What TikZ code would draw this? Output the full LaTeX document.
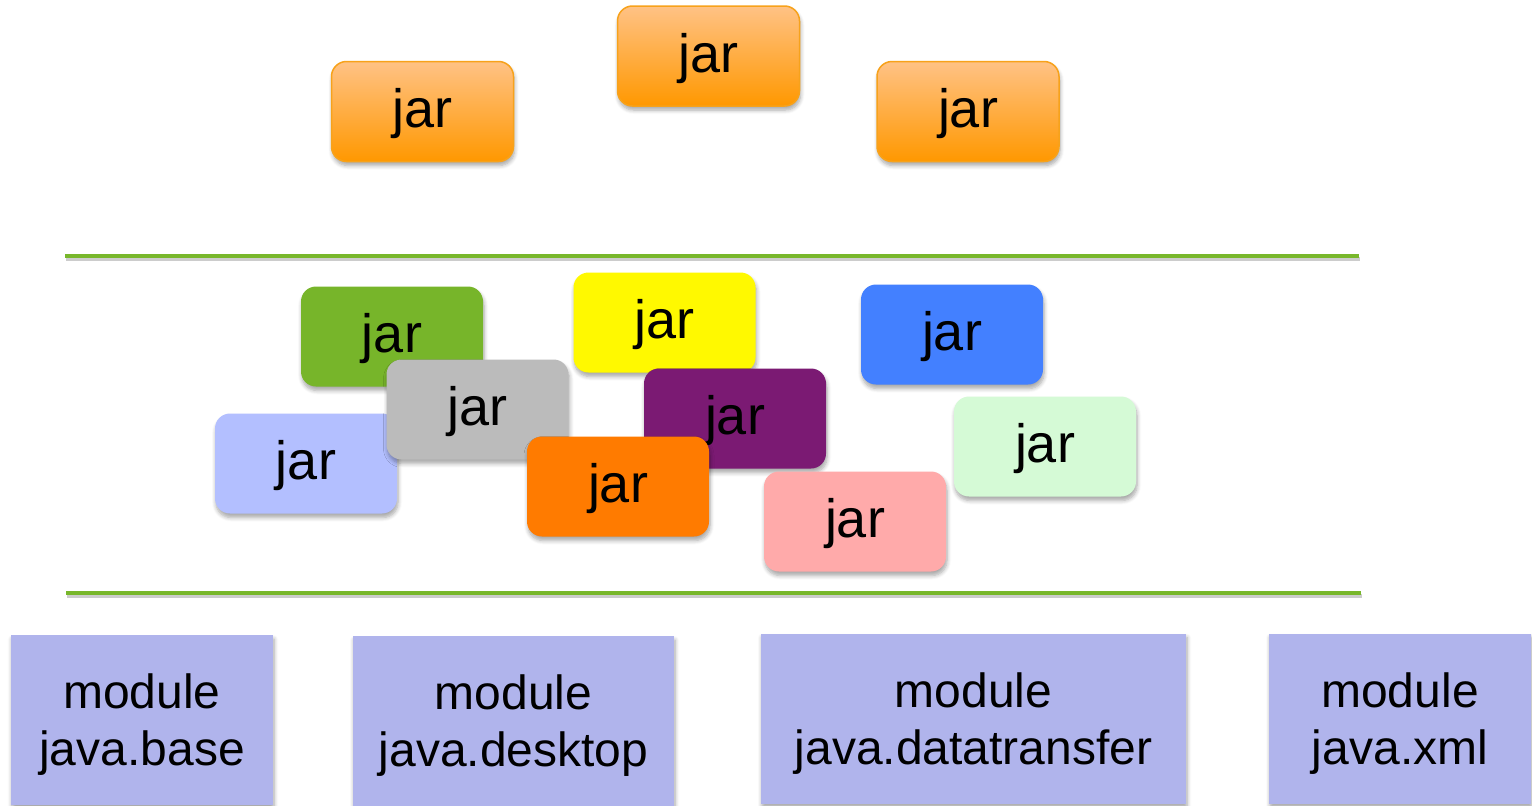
\documentclass[tikz,border=0pt]{standalone}
\usepackage{fontspec}
\setmainfont{Liberation Sans}
\usetikzlibrary{shadows.blur}

% palette
\definecolor{jarTop}{HTML}{FFC285}
\definecolor{jarBottom}{HTML}{FF9800}
\definecolor{jarEdge}{HTML}{F7A21B}
\definecolor{ruleGreen}{HTML}{78B72B}
\definecolor{modFill}{HTML}{B0B4EC}
\definecolor{cGreen}{HTML}{77B52A}
\definecolor{cYellow}{HTML}{FFF900}
\definecolor{cBlue}{HTML}{4380FF}
\definecolor{cGray}{HTML}{BBBBBB}
\definecolor{cPurple}{HTML}{7B1A73}
\definecolor{cLavender}{HTML}{B3BFFF}
\definecolor{cOrange}{HTML}{FF7B00}
\definecolor{cMint}{HTML}{D5FAD6}
\definecolor{cPink}{HTML}{FFAAAA}

\tikzset{
  x=1pt, y=-1pt,
  softshadow/.style={blur shadow={shadow xshift=1pt, shadow yshift=-4pt,
      shadow blur radius=4pt, shadow blur steps=6, shadow opacity=35}},
  jarbox/.style={rounded corners=15pt, minimum width=182pt, minimum height=100pt,
      inner sep=0pt, text depth=7pt, softshadow, font=\fontsize{54}{60}\selectfont},
  topjar/.style={jarbox, draw=jarEdge, line width=1.5pt,
      top color=jarTop, bottom color=jarBottom},
  modbox/.style={fill=modFill, inner sep=0pt, minimum height=170pt, softshadow,
      align=center, text height=101pt, font=\fontsize{48}{57}\selectfont},
  layerline/.style={draw=ruleGreen, line width=4.5pt},
  layershade/.style={draw=black, opacity=0.2, line width=4pt},
}

\begin{document}
\begin{tikzpicture}
\useasboundingbox (0,0) rectangle (1532,806);

% plain jars on the classpath (top)
\node[topjar] (t1) at (422.5,111.5) {jar};
\node[topjar] (t2) at (708.5,56) {jar};
\node[topjar] (t3) at (968,111.5) {jar};

% layer separators
\coordinate (l1a) at (65,256);   \coordinate (l1b) at (1359,256);
\coordinate (l2a) at (66,593);   \coordinate (l2b) at (1361,593);
\draw[layershade] ([shift={(1,3)}]l1a) -- ([shift={(1,3)}]l1b);
\draw[layerline] (l1a) -- (l1b);
\draw[layershade] ([shift={(1,3)}]l2a) -- ([shift={(1,3)}]l2b);
\draw[layerline] (l2a) -- (l2b);

% jars in the middle layer, back to front
\node[jarbox, fill=cGreen]    (m1) at (392,336.5) {jar};
\node[jarbox, fill=cLavender] (m2) at (306,463.5) {jar};
\node[jarbox, fill=cGray]     (m3) at (477.5,409.5) {jar};
\node[jarbox, fill=cYellow]   (m4) at (664.5,322.5) {jar};
\node[jarbox, fill=cPurple]   (m5) at (735,418.5) {jar};
\node[jarbox, fill=cOrange]   (m6) at (618,486.5) {jar};
\node[jarbox, fill=cBlue]     (m7) at (952,334.5) {jar};
\node[jarbox, fill=cMint]     (m8) at (1045,446.5) {jar};
\node[jarbox, fill=cPink]     (m9) at (855,521.5) {jar};

% platform modules (bottom)
\node[modbox, minimum width=262pt] (b1) at (142,720) {module\\java.base};
\node[modbox, minimum width=321pt] (b2) at (513.5,721) {module\\java.desktop};
\node[modbox, minimum width=425pt] (b3) at (973.5,718.5) {module\\java.datatransfer};
\node[modbox, minimum width=262pt] (b4) at (1400,718.5) {module\\java.xml};
\end{tikzpicture}
\end{document}
